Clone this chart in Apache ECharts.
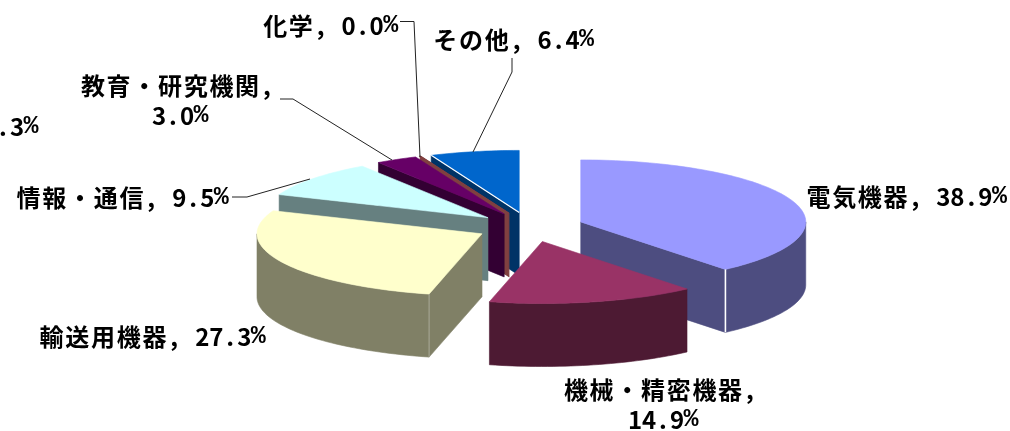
<!DOCTYPE html>
<html><head><meta charset="utf-8">
<style>html,body{margin:0;padding:0;background:#fff}#c{width:1010px;height:431px}</style>
<script src="https://cdn.jsdelivr.net/npm/echarts@6/dist/echarts.min.js"></script>
</head><body><div id="c"></div>
<script>
// data
const categories = ['電気機器','機械・精密機器','輸送用機器','情報・通信','教育・研究機関','化学','その他'];
const shares = [38.9,14.9,27.3,9.5,3.0,0.04,6.4];
// styles
const topColors = ['#9999FF','#993366','#FFFFCC','#CCFFFF','#660066','#804040','#0066CC'];
const sideColors = ['#4D4D80','#4D1A33','#808066','#668080','#330033','#804040','#003366'];
const paintOrder = [6,5,4,3,0,2,1];
// pie projection
const CX=530, CY=227, RX=225, RY=62, H=63, EXPLODE=0.24;
// label layout: [category index, anchor x, centre y, split after comma]
const labelLayout = [
  [0,906,197,false],[1,660,390,true],[2,152,337,false],[3,122,198,false],
  [4,177,86,true],[5,330,26,false],[6,513,40,false]
];
const leaderLines = [
  [[232,197],[247,197],[310,179]],
  [[280,99],[293,99],[392,160]],
  [[400,21.5],[414,21.5],[420,157]],
  [[512,58],[512,72],[473,152]]
];

const total = shares.reduce((a,b)=>a+b,0);
let acc=0;
const slices = shares.map(v=>{const s=acc/total*360; acc+=v; return {s,e:acc/total*360};});
const rad=d=>d*Math.PI/180;
function rim(c,a){return [c[0]+RX*Math.sin(rad(a)), c[1]-RY*Math.cos(rad(a))];}
function arc(c,a,b){const pts=[];const n=Math.max(2,Math.ceil((b-a)/1.5));for(let i=0;i<=n;i++)pts.push(rim(c,a+(b-a)*i/n));return pts;}
const down=p=>[p[0],p[1]+H];

function sliceChildren(i){
  const {s,e}=slices[i], mid=(s+e)/2;
  const c=[CX+EXPLODE*RX*Math.sin(rad(mid)), CY-EXPLODE*RY*Math.cos(rad(mid))];
  const kids=[], side=sideColors[i];
  const poly=(pts,fill,stroke)=>kids.push({type:'polygon',shape:{points:pts},style:{fill,stroke:stroke||fill,lineWidth:i===5?1.2:0.6}});
  if(s>=180&&s<360){const p=rim(c,s);poly([c,p,down(p),down(c)],side);}
  if(e>0&&e<180){const p=rim(c,e);poly([c,p,down(p),down(c)],side);}
  const a=Math.max(s,90),b=Math.min(e,270);
  if(b>a){const top=arc(c,a,b);poly(top.concat(top.map(down).reverse()),side);}
  poly([c].concat(arc(c,s,e)),topColors[i]);
  // highlight edges
  if(i===0){const p=rim(c,e);kids.push({type:'line',shape:{x1:p[0],y1:p[1],x2:p[0],y2:p[1]+H},style:{stroke:'#fff',lineWidth:1.6}});}
  if(i===2){const p=rim(c,s);kids.push({type:'line',shape:{x1:p[0],y1:p[1],x2:p[0],y2:p[1]+H},style:{stroke:'#b4b4a4',lineWidth:0.8}});}
  if(i===6){const p=rim(c,s);kids.push({type:'line',shape:{x1:c[0],y1:c[1],x2:p[0],y2:p[1]},style:{stroke:'#fff',lineWidth:1.2}});}
  return kids;
}
function rich(str){
  return Array.from(str).map(ch=>{
    const k = ch.charCodeAt(0)>127 ? 'c' : ch==='%' ? 'p' : 'd';
    return `{${k}|${ch===' '?'\u00a0':ch}}`;
  }).join('');
}
const base={fontFamily:'"Noto Sans CJK JP"',fontWeight:700,lineHeight:30,align:'center',fill:'#000',color:'#000'};
const richStyle={
  c:{...base,fontSize:24,width:25.7},
  d:{...base,fontSize:24,width:14},
  p:{...base,fontFamily:'"Liberation Mono"',fontSize:25,width:14}
};
function textEl(x,y,str,align){
  return {type:'text',x,y,style:{text:rich(str),rich:richStyle,align:align||'center',verticalAlign:'middle'}};
}
function labelChildren(){
  const kids=[];
  leaderLines.forEach(pts=>kids.push({type:'polyline',shape:{points:pts},style:{fill:null,stroke:'#222',lineWidth:1}}));
  labelLayout.forEach(([i,x,y,split])=>{
    const name=categories[i]+',', val=shares[i].toFixed(1)+'%';
    if(split){kids.push(textEl(x,y,name));kids.push(textEl(x+3,y+30,val));}
    else kids.push(textEl(x,y,name+' '+val));
  });
  kids.push(textEl(38,127,shares[2].toFixed(1)+'%','right'));
  return kids;
}
const chart=echarts.init(document.getElementById('c'),null,{renderer:'canvas'});
chart.setOption({
  animation:false,backgroundColor:'#fff',
  series:[
   {type:'custom',coordinateSystem:'none',silent:true,clip:false,z:1,
    data:paintOrder.map(i=>({name:categories[i],value:[i,shares[i]]})),
    renderItem:(p,api)=>({type:'group',children:sliceChildren(api.value(0))})},
   {type:'custom',coordinateSystem:'none',silent:true,clip:false,z:2,
    data:[[0]],
    renderItem:()=>({type:'group',children:labelChildren()})}
  ]
});
</script></body></html>
